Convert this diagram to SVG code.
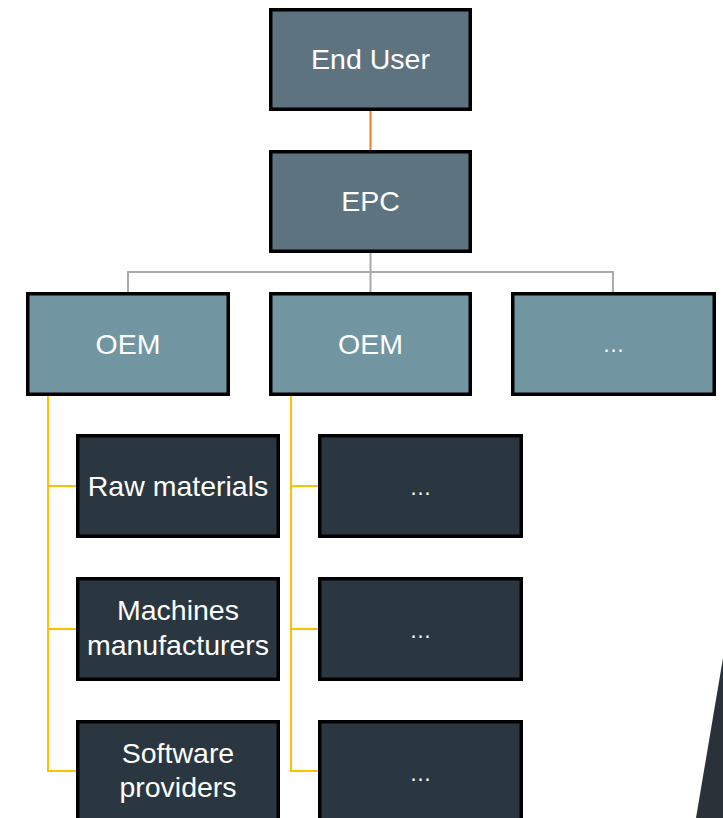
<svg xmlns="http://www.w3.org/2000/svg" width="723" height="818" viewBox="0 0 723 818">
<style>
.box{stroke:#000;stroke-width:3.5}
.top{fill:#5D7480}
.oem{fill:#7196A1}
.dark{fill:#2B3740}
text{font-family:"Liberation Sans",Arial,sans-serif;font-size:28.5px;fill:#fff;text-anchor:middle}
text.dots{font-size:22px}
.gray{stroke:#AAAAAA;stroke-width:2;fill:none}
.yel{stroke:#FFC000;stroke-width:2;fill:none}
</style>
<rect width="723" height="818" fill="#fff"/>
<polygon points="723,658 696,818 723,818" fill="#2B3138"/>
<g id="connectors">
<line x1="370.5" y1="110" x2="370.5" y2="151" stroke="#ED7D31" stroke-width="2"/>
<path class="gray" d="M370.5,253 V292 M128,292 V272 H613 V292"/>
<path class="yel" d="M48,396 V771 H76 M48,486 H76 M48,629 H76"/>
<path class="yel" d="M291,396 V771 H318 M291,486 H318 M291,629 H318"/>
</g>
<g id="end-user"><rect class="box top" x="270.75" y="9.75" width="199.5" height="99.5"/><text x="370.5" y="69">End User</text></g>
<g id="epc"><rect class="box top" x="270.75" y="151.75" width="199.5" height="99.5"/><text x="370.5" y="211">EPC</text></g>
<g id="oem1"><rect class="box oem" x="27.75" y="293.75" width="200.5" height="100.5"/><text x="128" y="354">OEM</text></g>
<g id="oem2"><rect class="box oem" x="270.75" y="293.75" width="199.5" height="100.5"/><text x="370.5" y="354">OEM</text></g>
<g id="oem3"><rect class="box oem" x="512.75" y="293.75" width="201.5" height="100.5"/><text class="dots" x="613.5" y="352">…</text></g>
<g id="raw-materials"><rect class="box dark" x="77.75" y="435.75" width="200.5" height="100.5"/><text x="178" y="496">Raw materials</text></g>
<g id="machines"><rect class="box dark" x="77.75" y="578.75" width="200.5" height="100.5"/><text x="178" y="620">Machines</text><text x="178" y="655">manufacturers</text></g>
<g id="software"><rect class="box dark" x="77.75" y="721.75" width="200.5" height="100.5"/><text x="178" y="763">Software</text><text x="178" y="797">providers</text></g>
<g id="sub1"><rect class="box dark" x="319.75" y="435.75" width="201.5" height="100.5"/><text class="dots" x="420.5" y="495">…</text></g>
<g id="sub2"><rect class="box dark" x="319.75" y="578.75" width="201.5" height="100.5"/><text class="dots" x="420.5" y="638">…</text></g>
<g id="sub3"><rect class="box dark" x="319.75" y="721.75" width="201.5" height="100.5"/><text class="dots" x="420.5" y="781">…</text></g>
</svg>
